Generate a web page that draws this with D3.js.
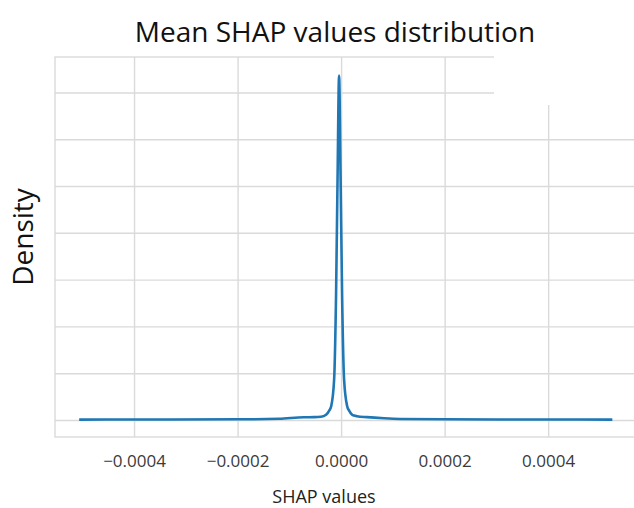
<!DOCTYPE html>
<html>
<head>
<meta charset="utf-8">
<script src="https://cdn.jsdelivr.net/npm/d3@7"></script>
<style>
  body { margin: 0; background: #fff; }
  text { font-family: "Open Sans", sans-serif; }
</style>
</head>
<body>
<svg></svg>
<script>
// kde of mean shap values
const shapValues = [-5.06e-4, -4.02e-4, -1.97e-4, -1.2e-4, -0.72e-4, -0.52e-4, -0.39e-4, -0.29e-4, -0.23e-4, -0.19e-4,
    -0.135e-4, -0.097e-4, -0.068e-4, -0.039e-4, -0.01e-4, 0.019e-4, 0.058e-4, 0.116e-4, 0.155e-4, 0.213e-4,
    0.251e-4, 0.309e-4, 0.50e-4, 0.83e-4, 1.14e-4, 1.99e-4, 3.98e-4, 5.24e-4];
const density = [40, 50, 70, 130, 290, 300, 340, 550, 1000, 1500,
    4300, 13500, 26000, 36800, 26000, 13500, 4300, 1500, 1000, 560,
    470, 400, 300, 180, 110, 70, 50, 40];

const xTicks = [-0.0004, -0.0002, 0, 0.0002, 0.0004];
const xTickLabels = ['\u22120.0004', '\u22120.0002', '0.0000', '0.0002', '0.0004'];
const yTicks = [0, 5000, 10000, 15000, 20000, 25000, 30000, 35000];

const width = 634;
const height = 508;
const plotLeft = 55, plotTop = 57, plotRight = 639, plotBottom = 437;

const svg = d3.select('svg')
    .attr('width', width).attr('height', height);

const x = d3.scaleLinear()
    .domain([-0.0005527, 0.0005755])
    .range([plotLeft, plotRight]);
const y = d3.scaleLinear()
    .domain([-1820, 38790])
    .range([plotBottom, plotTop]);

// grid
svg.append('g')
    .attr('transform', `translate(0,${plotBottom})`)
    .call(d3.axisBottom(x)
        .tickValues(xTicks)
        .tickSize(-(plotBottom - plotTop))
        .tickPadding(18)
        .tickFormat((d, i) => xTickLabels[i]))
    .call(g => g.select('.domain').remove())
    .call(g => g.selectAll('line').attr('stroke', '#dadada').attr('stroke-width', 1.4))
    .call(g => g.selectAll('text')
        .attr('fill', '#3a3a3a')
        .style('font-size', '17px'));

svg.append('g')
    .attr('transform', `translate(${plotLeft},0)`)
    .call(d3.axisLeft(y)
        .tickValues(yTicks)
        .tickSize(-(plotRight - plotLeft))
        .tickFormat(''))
    .call(g => g.select('.domain').remove())
    .call(g => g.selectAll('line').attr('stroke', '#dadada').attr('stroke-width', 1.4));

// frame (light spines)
svg.append('rect')
    .attr('x', plotLeft).attr('y', plotTop)
    .attr('width', plotRight - plotLeft).attr('height', plotBottom - plotTop)
    .attr('fill', 'none')
    .attr('stroke', '#dadada')
    .attr('stroke-width', 1.4);

const line = d3.line()
    .x((d, i) => x(shapValues[i]))
    .y(d => y(d))
    .curve(d3.curveMonotoneX);

svg.append('path')
    .datum(density)
    .attr('d', line)
    .attr('fill', 'none')
    .attr('stroke', '#1f77b4')
    .attr('stroke-width', 2.6)
    .attr('stroke-linejoin', 'round');

// the top right corner is blanked out in the original
svg.append('rect')
    .attr('x', 494).attr('y', 44)
    .attr('width', width - 494).attr('height', 61)
    .attr('fill', '#fff');

svg.append('text')
    .attr('x', 335).attr('y', 42)
    .attr('text-anchor', 'middle')
    .style('font-size', '28px')
    .attr('fill', '#111')
    .text('Mean SHAP values distribution');

svg.append('text')
    .attr('transform', 'translate(33,237) rotate(-90)')
    .attr('text-anchor', 'middle')
    .style('font-size', '28px')
    .attr('fill', '#111')
    .text('Density');

svg.append('text')
    .attr('x', 324).attr('y', 503)
    .attr('text-anchor', 'middle')
    .style('font-size', '18px')
    .attr('fill', '#222')
    .text('SHAP values');
</script>
</body>
</html>
